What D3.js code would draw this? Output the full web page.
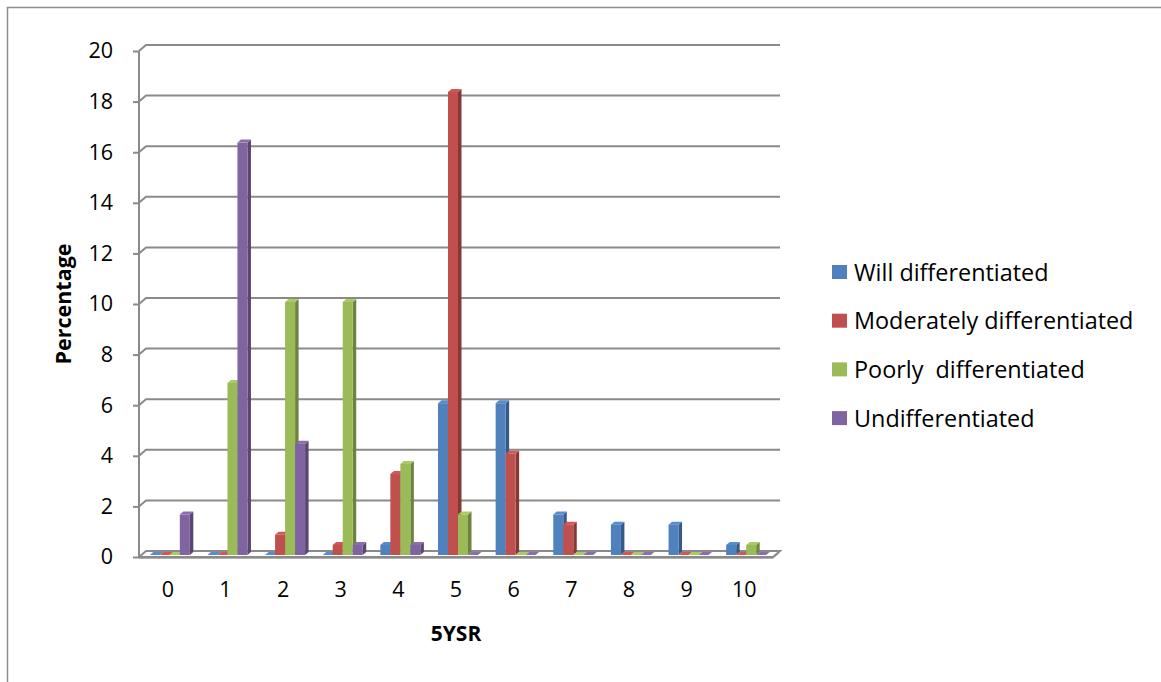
<!DOCTYPE html>
<html>
<head>
<meta charset="utf-8">
<script src="https://d3js.org/d3.v7.min.js"></script>
<style>
  html, body { margin: 0; padding: 0; background: #fff; }
  svg { display: block; }
  text { font-family: "Open Sans", "Noto Sans", sans-serif; fill: #000; }
</style>
</head>
<body>
<svg id="chart" width="1161" height="682"></svg>
<script>
// 5YSR categories and the percentage of each differentiation grade
const categories = ["0", "1", "2", "3", "4", "5", "6", "7", "8", "9", "10"];
const seriesNames = ["Will differentiated", "Moderately differentiated", "Poorly  differentiated", "Undifferentiated"];
const willDiff     = [0, 0, 0, 0, 0.4, 6, 6, 1.6, 1.2, 1.2, 0.4];
const moderateDiff = [0, 0, 0.8, 0.4, 3.2, 18.3, 4, 1.2, 0, 0, 0];
const poorlyDiff   = [0, 6.8, 10, 10, 3.6, 1.6, 0, 0, 0, 0, 0.4];
const undiff       = [1.6, 16.3, 4.4, 0.4, 0.4, 0, 0, 0, 0, 0, 0];
const yTicks = [0, 2, 4, 6, 8, 10, 12, 14, 16, 18, 20];

const seriesValues = [willDiff, moderateDiff, poorlyDiff, undiff];
const colors = ["#4F81BD", "#C0504D", "#9BBB59", "#8064A2"];

const svg = d3.select("#chart");

// outer chart-area border (top and left edges)
svg.append("path")
  .attr("d", "M7.5,682 L7.5,7.5 L1161,7.5")
  .attr("fill", "none").attr("stroke", "#8e8e8e").attr("stroke-width", 1.5);

// front plane of the 3D plot
const x0 = 139, x1 = 773, yBottom = 557, yTop = 51;
// back wall offset
const wallDx = 7, wallDy = -6;
// bars stand half-way into the floor
const barDx = 2, barDy = -2;
// bar depth
const depthX = 3.5, depthY = -3;

const x = d3.scaleBand().domain(categories).range([x0, x1]).paddingInner(0).paddingOuter(0);
const groupWidth = 40;
const xInner = d3.scaleBand().domain(d3.range(seriesNames.length))
  .range([-groupWidth / 2, groupWidth / 2]);
const y = d3.scaleLinear().domain([0, 20]).range([yBottom, yTop]);

const grid = svg.append("g");
const gridColor = "#8a8a8a";

// gridlines on the back wall, with the diagonal across the side wall
yTicks.forEach(t => {
  if (t === 0) return;
  grid.append("path")
    .attr("d", `M${x0},${y(t)} L${x0 + wallDx},${y(t) + wallDy} L${x1 + wallDx},${y(t) + wallDy}`)
    .attr("fill", "none").attr("stroke", gridColor).attr("stroke-width", 2);
});

// floor slab
grid.append("path")
  .attr("d", `M${x0},${yBottom} L${x0 + wallDx},${yBottom + wallDy} L${x1 + wallDx},${yBottom + wallDy} L${x1},${yBottom} Z`)
  .attr("fill", "#fff").attr("stroke", gridColor).attr("stroke-width", 2);
grid.append("path")
  .attr("d", `M${x0},${yBottom + 1.5} L${x1},${yBottom + 1.5} L${x1 + wallDx},${yBottom + wallDy + 1.5}`)
  .attr("fill", "none").attr("stroke", "#b0b0b0").attr("stroke-width", 1);

// vertical value axis
grid.append("line")
  .attr("x1", x0).attr("x2", x0).attr("y1", y(20)).attr("y2", yBottom)
  .attr("stroke", gridColor).attr("stroke-width", 2);

// value axis ticks and labels
const yAxis = d3.axisLeft(y).tickValues(yTicks).tickSize(6).tickPadding(20);
const yAxisG = svg.append("g").attr("transform", `translate(${x0},0)`).call(yAxis);
yAxisG.select(".domain").remove();
yAxisG.selectAll(".tick line").attr("stroke", gridColor).attr("stroke-width", 2);
yAxisG.selectAll(".tick text")
  .style("font-family", '"Open Sans", sans-serif').style("font-size", "21.5px").attr("fill", "#000");

// category axis labels
const xAxis = d3.axisBottom(x).tickSize(0).tickPadding(25);
const xAxisG = svg.append("g").attr("transform", `translate(0,${yBottom})`).call(xAxis);
xAxisG.select(".domain").remove();
xAxisG.selectAll(".tick text")
  .style("font-family", '"Open Sans", sans-serif').style("font-size", "21.5px").attr("fill", "#000");

// 3D columns
function shade(c, k) { return d3.color(c).darker(k).formatHex(); }
function tint(c, k) { return d3.color(c).brighter(k).formatHex(); }

const bars = svg.append("g");
seriesValues.forEach((vals, s) => {
  vals.forEach((v, i) => {
    const cx = x(categories[i]) + x.bandwidth() / 2;
    const left = cx + xInner(s) + barDx;
    const w = xInner.bandwidth();
    const top = y(v) + barDy;
    const base = y(0) + barDy;
    const g = bars.append("g");
    // right side face
    g.append("path")
      .attr("d", `M${left + w},${top} L${left + w + depthX},${top + depthY} L${left + w + depthX},${base + depthY} L${left + w},${base} Z`)
      .attr("fill", shade(colors[s], 1.0));
    // top face
    g.append("path")
      .attr("d", `M${left},${top} L${left + depthX},${top + depthY} L${left + w + depthX},${top + depthY} L${left + w},${top} Z`)
      .attr("fill", tint(colors[s], 0.25));
    // front face
    if (v > 0) {
      g.append("rect")
        .attr("x", left).attr("y", top)
        .attr("width", w).attr("height", base - top)
        .attr("fill", colors[s]);
    }
  });
});

// axis titles
svg.append("text")
  .attr("x", 456).attr("y", 641)
  .attr("text-anchor", "middle")
  .style("font-size", "21px").style("font-weight", "bold")
  .text("5YSR");

svg.append("text")
  .attr("transform", "translate(71,304) rotate(-90)")
  .attr("text-anchor", "middle")
  .style("font-size", "21.5px").style("font-weight", "bold")
  .text("Percentage");

// legend
const legend = svg.append("g").attr("transform", "translate(832,272)");
seriesNames.forEach((name, s) => {
  const row = legend.append("g").attr("transform", `translate(0,${s * 48.7})`);
  row.append("rect").attr("x", 0).attr("y", -7).attr("width", 15).attr("height", 14).attr("fill", colors[s]);
  row.append("text").attr("x", 22).attr("y", 8.5)
    .attr("xml:space", "preserve")
    .style("white-space", "pre")
    .style("font-size", "23.4px")
    .text(name);
});
</script>
</body>
</html>
